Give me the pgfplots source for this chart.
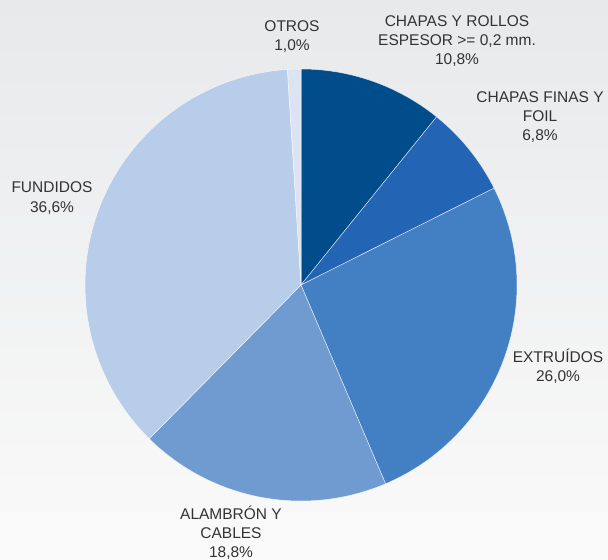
\documentclass[border=0pt]{standalone}
\usepackage{pgfplots}
\pgfplotsset{compat=1.18}
\usepackage{fontspec}
\setmainfont{Liberation Sans}
\definecolor{c1}{HTML}{014D8C}
\definecolor{c2}{HTML}{2464B4}
\definecolor{c3}{HTML}{4380C3}
\definecolor{c4}{HTML}{6F9BD0}
\definecolor{c5}{HTML}{B8CDE9}
\definecolor{c6}{HTML}{DCE4F3}
\definecolor{bgtop}{HTML}{E8E9EB}
\definecolor{bgbot}{HTML}{FAFAFA}
\definecolor{txt}{HTML}{333333}
% #1 cumulative percentage before slice, #2 slice percentage, #3 colour
\newcommand{\pieslice}[3]{%
  \addplot[fill=#3, draw=white, draw opacity=0.7, line width=0.5pt,
    domain={3.6*#1}:{3.6*(#1+#2)}, samples=80, variable=\t]
    ({301+216*sin(t)},{285-216*cos(t)}) -- (axis cs:301,285) -- cycle;}
\begin{document}
\begin{tikzpicture}
\begin{axis}[width=608bp,height=560bp,scale only axis,hide axis,
  xmin=0,xmax=608,ymin=0,ymax=560,y dir=reverse,clip=false]
\fill[top color=bgtop,bottom color=bgbot] (axis cs:0,0) rectangle (axis cs:608,560);
% values (%): 10.8, 6.8, 26.0, 18.8, 36.6, 1.0
\pieslice{0}{10.8}{c1}
\pieslice{10.8}{6.8}{c2}
\pieslice{17.6}{26.0}{c3}
\pieslice{43.6}{18.8}{c4}
\pieslice{62.4}{36.6}{c5}
\pieslice{99.0}{1.0}{c6}
\begin{scope}[every node/.style={align=center,text=txt,font=\fontsize{15.5bp}{19.2bp}\selectfont,inner sep=0pt}]
\node at (axis cs:292,36.5) {OTROS\\1,0\%};
\node at (axis cs:457,41) {CHAPAS Y ROLLOS\\ESPESOR >= 0,2 mm.\\10,8\%};
\node at (axis cs:540,117) {CHAPAS FINAS Y\\FOIL\\6,8\%};
\node at (axis cs:558,366.5) {EXTRUÍDOS\\26,0\%};
\node at (axis cs:52,198) {FUNDIDOS\\36,6\%};
\node at (axis cs:231,533) {ALAMBRÓN Y\\CABLES\\18,8\%};
\end{scope}
\end{axis}
\end{tikzpicture}
\end{document}
